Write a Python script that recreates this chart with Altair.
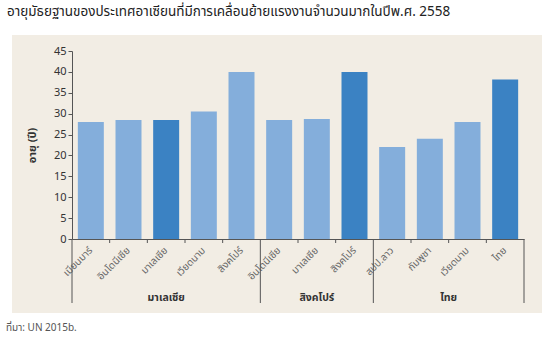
import altair as alt
import pandas as pd
import numpy as np

title_text = "อายุมัธยฐานของประเทศอาเซียนที่มีการเคลื่อนย้ายแรงงานจำนวนมากในปีพ.ศ. 2558"
source_text = "ที่มา: UN 2015b."
y_title = "อายุ (ปี)"

group_names = ["มาเลเซีย", "สิงคโปร์", "ไทย"]
group_countries = [
    ["เมียนมาร์", "อินโดนีเซีย", "มาเลเซีย", "เวียดนาม", "สิงคโปร์"],
    ["อินโดนีเซีย", "มาเลเซีย", "สิงคโปร์"],
    ["สปป.ลาว", "กัมพูชา", "เวียดนาม", "ไทย"],
]
group_values = [
    [28, 28.5, 28.5, 30.5, 40],
    [28.5, 28.7, 40],
    [22, 24, 28, 38.2],
]

LIGHT = "#84aedb"
DARK = "#3b82c3"
FONT = "Tahoma, 'Noto Sans Thai', 'Noto Sans', sans-serif"

rows = []
for g, cs, vs in zip(group_names, group_countries, group_values):
    for c, v in zip(cs, vs):
        rows.append({"key": g + "|" + c, "country": c, "group": g, "value": v,
                     "host": "host" if c == g else "other"})
df = pd.DataFrame(rows)
df["pos"] = np.arange(len(df)) + 0.5
order = list(df["key"])

sizes = [len(c) for c in group_countries]
bounds = np.concatenate([[0], np.cumsum(sizes)])
n = int(bounds[-1])
tick_df = pd.DataFrame({"pos": [i for i in range(1, n) if i not in bounds]})
bound_df = pd.DataFrame({"pos": [int(b) for b in bounds]})
glabel_df = pd.DataFrame({"pos": [(bounds[i] + bounds[i + 1]) / 2 for i in range(len(group_names))],
                          "name": group_names})

W, H = 452, 188

bg = alt.Chart(pd.DataFrame({"a": [0]})).mark_rect(color="#f2ede4").encode(
    x=alt.value(-60), x2=alt.value(470), y=alt.value(-16), y2=alt.value(262)
)

bars = alt.Chart(df).mark_bar().encode(
    x=alt.X("key:N", sort=order,
            scale=alt.Scale(paddingInner=0.31, paddingOuter=0.155),
            axis=alt.Axis(title=None, ticks=False, labels=False,
                          domainColor="#555", zindex=1)),
    y=alt.Y("value:Q", scale=alt.Scale(domain=[0, 45], nice=False),
            axis=alt.Axis(values=list(range(0, 50, 5)), grid=False, title=y_title,
                          titleFont=FONT, titleFontSize=11, titleFontWeight="bold",
                          titleColor="#333", titlePadding=16, labelFont=FONT,
                          labelFontSize=11, labelColor="#333", tickSize=4,
                          tickColor="#555", domainColor="#555", zindex=1)),
    color=alt.Color("host:N", scale=alt.Scale(domain=["host", "other"], range=[DARK, LIGHT]),
                    legend=None),
)

xq = alt.X("pos:Q", scale=alt.Scale(domain=[0, n], nice=False, zero=False), axis=None)

xlabels = alt.Chart(df).mark_text(font=FONT, fontSize=10, color="#666", angle=315,
                                  align="right", baseline="middle", dx=0).encode(
    x=xq, y=alt.value(H + 10), text="country:N"
)

ticks = alt.Chart(tick_df).mark_rule(color="#555").encode(
    x=xq, y=alt.value(H), y2=alt.value(H + 4)
)
glines = alt.Chart(bound_df).mark_rule(color="#555").encode(
    x=xq, y=alt.value(H), y2=alt.value(H + 64)
)
glabels = alt.Chart(glabel_df).mark_text(font=FONT, fontSize=10.5, fontWeight="bold",
                                         color="#333").encode(
    x=xq, y=alt.value(H + 59), text="name:N"
)

title = alt.Chart(pd.DataFrame({"t": [title_text]})).mark_text(
    font=FONT, fontSize=13.5, color="#222", align="left", baseline="middle"
).encode(x=alt.value(-65), y=alt.value(-39), text="t:N")

source = alt.Chart(pd.DataFrame({"t": [source_text]})).mark_text(
    font=FONT, fontSize=10, color="#555", align="left", baseline="middle"
).encode(x=alt.value(-66), y=alt.value(277), text="t:N")

chart = alt.layer(bg, bars, xlabels, ticks, glines, glabels, title, source).resolve_scale(
    x="independent"
).properties(
    width=W, height=H,
    autosize=alt.AutoSizeParams(type="none"),
    padding={"left": 72, "top": 51, "right": 26, "bottom": 111},
    background="white",
).configure_view(stroke=None)

chart.save("out.html", embed_options={"renderer": "svg", "actions": False})
